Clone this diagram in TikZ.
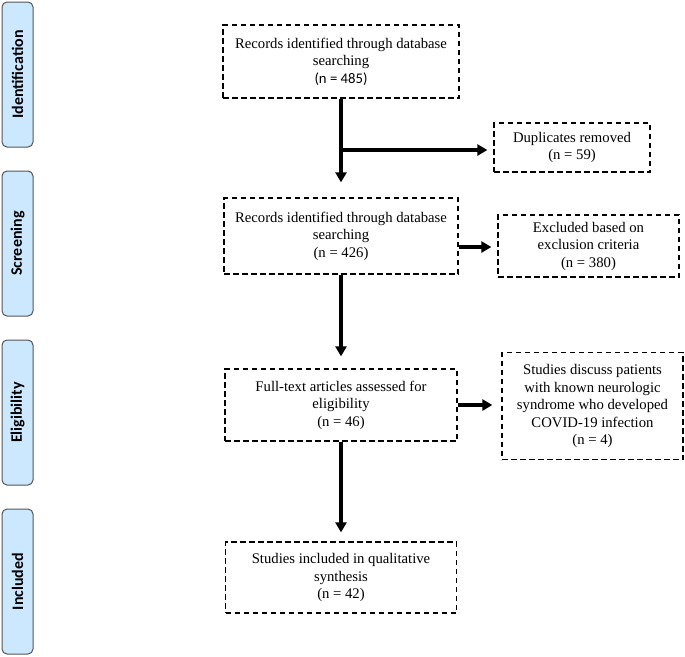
\documentclass[tikz,border=0pt]{standalone}
\usepackage{fontspec}
\setmainfont{Liberation Serif}
\newfontfamily\calfont{Carlito}
\usetikzlibrary{arrows.meta}
\definecolor{phasefill}{HTML}{CCE8FF}
\definecolor{phasedraw}{HTML}{555555}
\tikzset{
  phase/.style={draw=phasedraw, line width=1pt, fill=phasefill, rounded corners=5pt,
    rotate=90, minimum width=145pt, minimum height=31pt, inner sep=0pt,
    font=\calfont\bfseries\fontsize{16}{19}\selectfont},
  flowbox/.style={draw, dashed, dash pattern=on 5.5pt off 3.5pt, line width=1.3pt,
    align=center, inner sep=0pt, font=\fontsize{14.7}{17.5}\selectfont},
  flowarrow/.style={line width=3.2pt, -{Triangle[length=10pt,width=11pt]}},
}
\begin{document}
\begin{tikzpicture}[x=1pt,y=-1pt]
\useasboundingbox (0,0) rectangle (685,656);
% phase labels
\node[phase] (pid) at (17.5,74.5) {Identification};
\node[phase] (psc) at (17.5,243.5) {Screening};
\node[phase] (pel) at (17.5,412.5) {Eligibility};
\node[phase] (pin) at (17.5,581.5) {Included};
% main boxes
\node[flowbox, minimum width=236pt, minimum height=73pt] (b1) at (341,61.5)
  {Records identified through database\\searching\\{\calfont (n = 485)}};
\node[flowbox, minimum width=234pt, minimum height=76pt] (b2) at (341,236)
  {Records identified through database\\searching\\(n = 426)};
\node[flowbox, minimum width=232pt, minimum height=72pt] (b3) at (341,405)
  {Full-text articles assessed for\\eligibility\\(n = 46)};
\node[flowbox, minimum width=231pt, minimum height=71pt] (b4) at (341,577.5)
  {Studies included in qualitative\\synthesis\\(n = 42)};
% side boxes
\node[flowbox, minimum width=156pt, minimum height=49pt] (s1) at (572,147.5)
  {Duplicates removed\\(n = 59)};
\node[flowbox, minimum width=181pt, minimum height=62pt] (s2) at (588.5,246)
  {Excluded based on\\exclusion criteria\\(n = 380)};
\node[flowbox, minimum width=181pt, minimum height=107pt] (s3) at (592.5,406)
  {Studies discuss patients\\with known neurologic\\syndrome who developed\\COVID-19 infection\\(n = 4)};
% connectors
\coordinate (j1) at (341,150);
\draw[flowarrow, shorten >=15pt] (b1.south) -- (b2.north);
\draw[flowarrow, shorten >=6pt] (j1) -- (j1 -| s1.west);
\draw[flowarrow, shorten >=6pt] (b2.east |- 0,247) -- (s2.west |- 0,247);
\draw[flowarrow, shorten >=12pt] (b2.south) -- (b3.north);
\draw[flowarrow, shorten >=9pt] (b3.east |- 0,405) -- (s3.west |- 0,405);
\draw[flowarrow, shorten >=9pt] (b3.south) -- (b4.north);
\end{tikzpicture}
\end{document}
